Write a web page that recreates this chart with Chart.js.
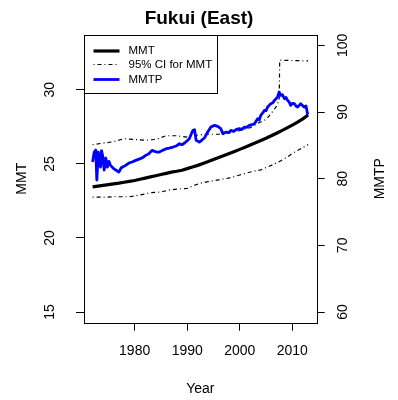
<!DOCTYPE html>
<html>
<head>
<meta charset="utf-8">
<script src="https://cdn.jsdelivr.net/npm/chart.js@4/dist/chart.umd.min.js"></script>
<style>
  body { margin: 0; background: #fff; }
</style>
</head>
<body>
<canvas id="chart" width="398" height="400"></canvas>
<script>
// Données
const mmtYears = [1972, 1973, 1974, 1975, 1976, 1977, 1978, 1979, 1980, 1981, 1982, 1983, 1984, 1985,
  1986, 1987, 1988, 1989, 1990, 1991, 1992, 1993, 1994, 1995, 1996, 1997, 1998, 1999, 2000, 2001,
  2002, 2003, 2004, 2005, 2006, 2007, 2008, 2009, 2010, 2011, 2012, 2013];
const mmtValues = [23.45, 23.5, 23.55, 23.6, 23.65, 23.7, 23.76, 23.82, 23.88, 23.96, 24.04, 24.12, 24.2, 24.28,
  24.36, 24.44, 24.5, 24.57, 24.68, 24.79, 24.9, 25.03, 25.16, 25.3, 25.43, 25.56, 25.7, 25.84, 25.98, 26.12,
  26.28, 26.43, 26.58, 26.73, 26.9, 27.07, 27.25, 27.43, 27.62, 27.82, 28.04, 28.3];

const ciLowYears = [1972, 1974, 1976, 1979, 1981, 1983, 1985, 1986.5, 1988, 1990, 1991, 1992.5, 1994, 1996,
  1998, 2000, 2002, 2004, 2006, 2007.5, 2009, 2010, 2011.5, 2013];
const ciLowValues = [22.75, 22.75, 22.78, 22.78, 22.9, 23.05, 23.1, 23.23, 23.3, 23.35, 23.5, 23.7, 23.8, 23.92,
  24.05, 24.25, 24.45, 24.6, 24.9, 25.15, 25.45, 25.7, 26.0, 26.3];

const ciHighYears = [1972, 1974, 1976, 1978, 1980, 1982, 1984, 1986, 1988, 1990, 1992, 1994, 1996, 1998,
  2000, 2002, 2003.5, 2005, 2006, 2007, 2007.5, 2007.6, 2013];
const ciHighValues = [26.3, 26.4, 26.5, 26.7, 26.65, 26.6, 26.65, 26.9, 26.9, 26.8, 26.95, 27.0, 27.0, 27.1,
  27.25, 27.45, 27.75, 28.0, 28.4, 28.9, 29.3, 32.0, 31.95];

const mmtpYears = [1972.0, 1972.3, 1972.6, 1972.8, 1973.1, 1973.3, 1973.5, 1973.7, 1973.9, 1974.2, 1974.5,
  1974.8, 1975.1, 1975.4, 1975.9, 1976.4, 1977.0, 1977.4, 1977.7, 1978.3, 1978.9, 1979.5, 1980.2, 1980.7,
  1981.1, 1981.6, 1982.1, 1982.7, 1983.3, 1983.8, 1984.3, 1984.7, 1985.3, 1986.0, 1986.6, 1987.3, 1987.9,
  1988.5, 1989.0, 1989.5, 1990.0, 1990.4, 1990.8, 1991.1, 1991.4, 1991.7, 1992.3, 1992.8, 1993.3, 1993.9,
  1994.5, 1995.2, 1995.8, 1996.4, 1996.8, 1997.4, 1997.9, 1998.3, 1998.8, 1999.3, 1999.9, 2000.4, 2000.9,
  2001.3, 2001.8, 2002.3, 2002.8, 2003.4, 2003.7, 2004.0, 2004.4, 2004.7, 2005.0, 2005.3, 2005.6, 2005.9,
  2006.3, 2006.6, 2006.9, 2007.2, 2007.5, 2007.8, 2008.1, 2008.5, 2008.8, 2009.1, 2009.4, 2009.7, 2010.0,
  2010.4, 2010.7, 2011.0, 2011.3, 2011.6, 2011.9, 2012.3, 2012.6, 2012.9, 2013.0];
const mmtpValues = [82.5, 84.0, 84.3, 79.8, 84.0, 82.5, 81.75, 84.2, 83.5, 81.3, 83.1,
  81.75, 82.6, 82.0, 81.6, 81.3, 81.0, 81.6, 81.75, 82.0, 82.35, 82.5, 82.75, 82.9,
  83.0, 83.2, 83.5, 83.75, 84.25, 84.1, 84.0, 84.0, 84.25, 84.5, 84.6, 84.75, 84.9,
  85.25, 85.1, 85.35, 85.7, 86.0, 86.75, 87.25, 87.35, 85.75, 85.5, 85.8, 86.15, 87.0,
  87.75, 88.0, 87.85, 87.5, 86.75, 87.0, 86.9, 87.25, 87.1, 87.35, 87.5, 87.4, 87.75,
  87.7, 88.0, 88.1, 88.25, 89.0, 88.8, 89.5, 89.9, 90.25, 90.2, 90.75, 91.0, 91.25,
  91.4, 91.75, 92.0, 92.25, 93.0, 92.5, 92.6, 92.0, 92.2, 91.75, 91.5, 91.0, 91.3,
  91.25, 90.9, 90.75, 91.0, 91.25, 91.0, 90.75, 90.9, 89.75, 89.6];

const xTicks = [1980, 1990, 2000, 2010];
const leftTicks = [15, 20, 25, 30];
const rightTicks = [60, 70, 80, 90, 100];

const FONT = '"Liberation Sans", Arial, Helvetica, sans-serif';
Chart.defaults.font.family = FONT;
Chart.defaults.color = '#000';

function toPoints(xs, ys) {
  return xs.map((x, i) => ({ x: x, y: ys[i] }));
}

function fixTicks(values) {
  return function (scale) {
    scale.ticks = values.map((v) => ({ value: v }));
  };
}

// Cadre, légende et titre de l'axe de droite
const extras = {
  id: 'extras',
  afterDatasetsDraw(chart) {
    const ctx = chart.ctx;
    const a = chart.chartArea;
    ctx.save();
    ctx.strokeStyle = '#000';
    ctx.lineWidth = 1;
    ctx.strokeRect(Math.round(a.left) + 0.5, Math.round(a.top) + 0.5,
      Math.round(a.right - a.left), Math.round(a.bottom - a.top));

    // légende
    const lx = Math.round(a.left) + 0.5, ly = Math.round(a.top) + 0.5;
    ctx.fillStyle = '#fff';
    ctx.fillRect(lx, ly, 133, 58);
    ctx.strokeRect(lx, ly, 133, 58);
    const rows = [15.5, 29, 44];
    chart.data.datasets.slice().sort((p, q) => p.legendRank - q.legendRank).forEach((ds, i) => {
      if (ds.legendRank == null) return;
      const y = ly + rows[i];
      ctx.beginPath();
      ctx.strokeStyle = ds.borderColor;
      ctx.lineWidth = ds.borderWidth;
      ctx.setLineDash(ds.borderDash || []);
      ctx.moveTo(lx + 9, y);
      ctx.lineTo(lx + 35, y);
      ctx.stroke();
      ctx.setLineDash([]);
      ctx.fillStyle = '#000';
      ctx.font = '11.5px ' + FONT;
      ctx.textBaseline = 'middle';
      ctx.textAlign = 'left';
      ctx.fillText(ds.label, lx + 44, y);
    });

    // titre de l'axe y de droite
    ctx.translate(380, (a.top + a.bottom) / 2);
    ctx.rotate(-Math.PI / 2);
    ctx.font = '14px ' + FONT;
    ctx.textAlign = 'center';
    ctx.textBaseline = 'middle';
    ctx.fillStyle = '#000';
    ctx.fillText('MMTP', 0, 0);
    ctx.restore();
  }
};

new Chart(document.getElementById('chart'), {
  type: 'line',
  data: {
    datasets: [
      {
        label: 'MMTP',
        legendRank: 2,
        data: toPoints(mmtpYears, mmtpValues),
        yAxisID: 'y2',
        borderColor: '#0000ff',
        borderWidth: 2.8,
        pointRadius: 0,
        borderJoinStyle: 'round',
        order: 0,
      },
      {
        label: 'MMT',
        legendRank: 0,
        data: toPoints(mmtYears, mmtValues),
        yAxisID: 'y',
        borderColor: '#000',
        borderWidth: 3.2,
        pointRadius: 0,
        order: 1,
      },
      {
        label: '95% CI for MMT',
        legendRank: 1,
        data: toPoints(ciHighYears, ciHighValues),
        yAxisID: 'y',
        borderColor: '#000',
        borderWidth: 1.2,
        borderDash: [1, 3, 4, 3],
        pointRadius: 0,
        order: 2,
      },
      {
        label: 'CI low',
        data: toPoints(ciLowYears, ciLowValues),
        yAxisID: 'y',
        borderColor: '#000',
        borderWidth: 1.2,
        borderDash: [1, 3, 4, 3],
        pointRadius: 0,
        order: 3,
      },
    ]
  },
  options: {
    responsive: false,
    animation: false,
    layout: { padding: 0 },
    plugins: {
      legend: { display: false },
      tooltip: { enabled: false },
      title: {
        display: true,
        text: 'Fukui (East)',
        font: { size: 19, weight: 'bold', lineHeight: 1.2 },
        padding: { top: 7, bottom: 4.9 },
        color: '#000',
      },
    },
    scales: {
      x: {
        type: 'linear',
        min: 1970.36,
        max: 2014.64,
        afterBuildTicks: fixTicks(xTicks),
        afterFit(scale) { scale.height = 77.3; },
        grid: { drawOnChartArea: false, tickLength: 8, color: '#000' },
        border: { display: false },
        ticks: { font: { size: 14 }, padding: 12, maxRotation: 0, callback: (v) => String(v) },
        title: { display: true, text: 'Year', font: { size: 14 }, padding: { top: 0, bottom: 2 } },
      },
      y: {
        type: 'linear',
        position: 'left',
        min: 14.28,
        max: 33.72,
        afterBuildTicks: fixTicks(leftTicks),
        afterFit(scale) { scale.width = 84; },
        grid: { drawOnChartArea: false, tickLength: 8, color: '#000' },
        border: { display: false },
        ticks: { font: { size: 14 }, padding: 18, minRotation: 90, maxRotation: 90, crossAlign: 'center' },
        title: { display: true, text: 'MMT', font: { size: 14 }, padding: { top: 14, bottom: 0 } },
      },
      y2: {
        type: 'linear',
        position: 'right',
        min: 58.4,
        max: 101.6,
        afterBuildTicks: fixTicks(rightTicks),
        afterFit(scale) { scale.width = 81.3; },
        grid: { drawOnChartArea: false, tickLength: 8, color: '#000' },
        border: { display: false },
        ticks: { font: { size: 14 }, padding: 7, minRotation: 90, maxRotation: 90, crossAlign: 'center' },
      },
    },
  },
  plugins: [extras],
});
</script>
</body>
</html>
